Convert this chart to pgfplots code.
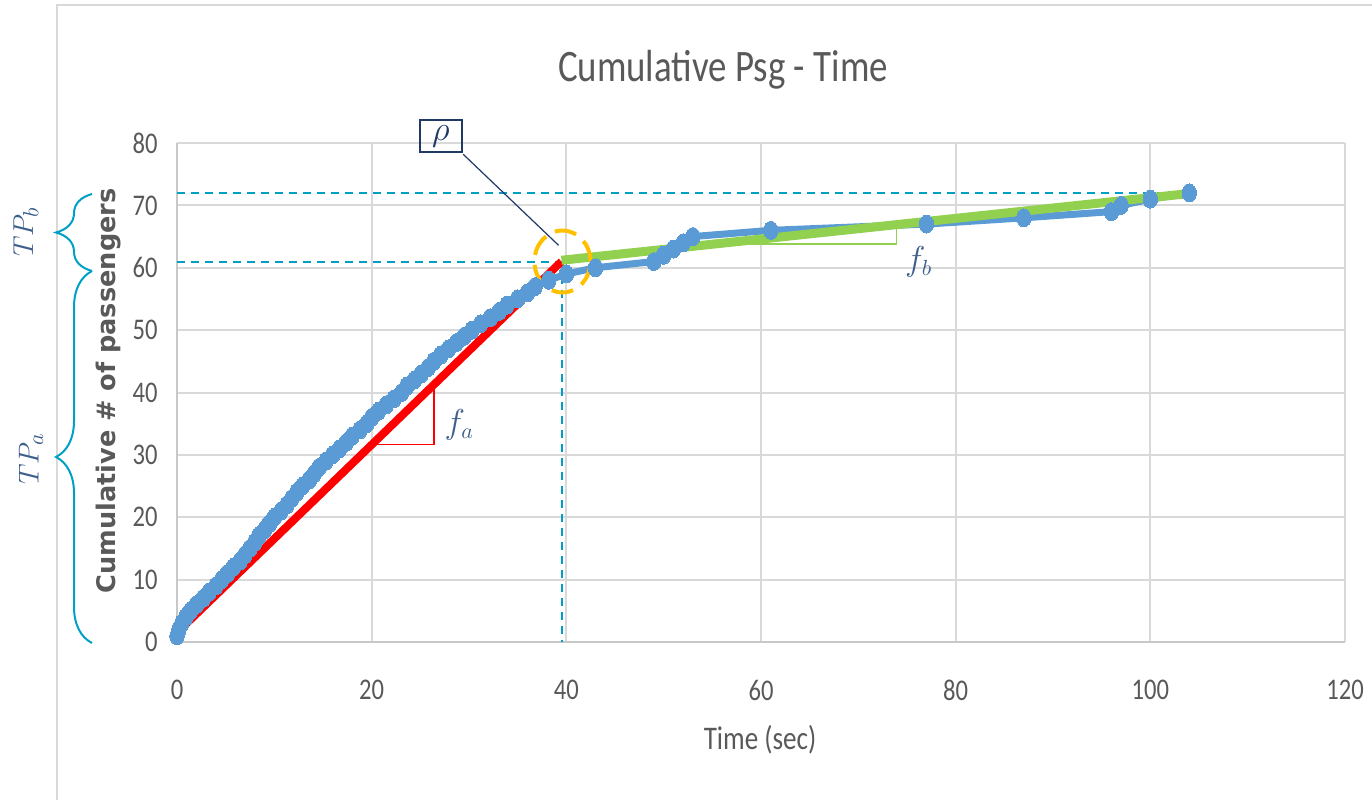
\documentclass[border=0pt]{standalone}
\usepackage{pgfplots}
\pgfplotsset{compat=1.18}
\usepackage{fontspec}
\setmainfont{Carlito}[FakeStretch=0.82]
\newfontfamily\ylabfont{DejaVu Sans}
\usetikzlibrary{decorations.pathreplacing}
\definecolor{ptblue}{RGB}{91,155,213}
\definecolor{gridgray}{RGB}{217,217,217}
\definecolor{axgray}{RGB}{200,200,200}
\definecolor{txtgray}{RGB}{89,89,89}
\definecolor{dashcyan}{RGB}{0,160,198}
\definecolor{orangec}{RGB}{255,192,0}
\definecolor{greenc}{RGB}{146,208,80}
\definecolor{navyc}{RGB}{31,56,100}
\definecolor{slatec}{RGB}{62,95,140}
\begin{document}
\begin{tikzpicture}
\path[use as bounding box] (0,0) rectangle (686pt,400pt);
\begin{axis}[
  at={(88.5pt,79pt)}, anchor=south west, scale only axis,
  width=584pt, height=249.5pt,
  xmin=0, xmax=120, ymin=0, ymax=80,
  xtick={0,20,...,120}, ytick={0,10,...,80},
  axis lines*=left,
  axis line style={draw=axgray, line width=1pt},
  grid=major, major grid style={draw=gridgray, line width=1pt},
  major tick length=0pt,
  tick label style={font=\fontsize{15}{18}\selectfont, text=txtgray},
  /pgf/number format/assume math mode=true,
  xticklabel style={anchor=center, yshift=-24pt},
  yticklabel style={anchor=east, inner sep=0pt, xshift=-9.5pt},
  clip=false,
]
% observed cumulative passengers
\addplot[ptblue, line width=3.5pt, mark=*, mark size=4.5pt,
  mark options={xscale=0.8, fill=ptblue, draw=ptblue, line width=0pt}] coordinates {
(0,1) (0.2,2) (0.5,3) (0.9,4) (1.4,5) (2,6) (2.7,7) (3.3,8) (4,9) (4.6,10)
(5.2,11) (5.8,12) (6.5,13) (7,14) (7.5,15) (8,16) (8.4,17) (9,18) (9.5,19) (10,20)
(10.7,21) (11.3,22) (11.8,23) (12.3,24) (12.9,25) (13.6,26) (14.1,27) (14.6,28) (15.3,29) (16,30)
(16.7,31) (17.4,32) (18,33) (18.8,34) (19.5,35) (20,36) (20.7,37) (21.5,38) (22.3,39) (23.1,40)
(23.6,41) (24.4,42) (25.1,43) (25.8,44) (26.4,45) (27.1,46) (27.9,47) (28.7,48) (29.5,49) (30.3,50)
(31.2,51) (32.2,52) (33.1,53) (33.9,54) (35,55) (36,56) (36.8,57) (38.2,58) (40,59)
(43,60) (49,61) (50,62) (51,63) (52,64) (53,65) (61,66) (77,67) (87,68) (96,69) (97,70) (100,71) (104,72)
};
% dashed reference lines
\addplot[dashcyan, line width=1pt, dash pattern=on 4pt off 3pt] coordinates {(0,72) (104,72)};
\addplot[dashcyan, line width=1pt, dash pattern=on 4pt off 3pt] coordinates {(0,61) (39.6,61)};
\addplot[dashcyan, line width=1pt, dash pattern=on 4pt off 3pt] coordinates {(39.6,61) (39.6,0)};
% slope triangles
\addplot[red, line width=0.6pt] coordinates {(20,31.7) (26.4,31.7) (26.4,41.3)};
\addplot[greenc, line width=0.6pt] coordinates {(56,63.8) (73.9,63.8) (73.9,66.6)};
% fitted segments
\addplot[red, line width=4pt] coordinates {(0,1.5) (39.5,61)};
\addplot[greenc, line width=4.5pt] coordinates {(39.5,61.2) (104,71.9)};
% break point circle
\draw[orangec, line width=2pt, dash pattern=on 11pt off 5pt] (axis cs:39.6,61) ellipse[x radius=14pt, y radius=15.5pt];
% labels
\node[text=slatec, font=\fontsize{16}{18}\selectfont] at (axis cs:29.0,34.8) {$f_a$};
\node[text=slatec, font=\fontsize{16}{18}\selectfont] at (axis cs:76.2,61.0) {$f_b$};
\node[draw=navyc, line width=0.8pt, text=navyc, minimum width=21pt, minimum height=16pt, inner sep=0pt,
  font=\fontsize{17}{19}\selectfont] at (axis cs:27.1,81.1) {$\rho$};
\draw[navyc, line width=0.6pt] (axis cs:29.4,78.2) -- (axis cs:39.2,63.6);
\end{axis}
\begin{scope}[x=0.5pt, y=-0.5pt, yshift=400pt]
\draw[gridgray, line width=1pt] (57,800) -- (57,5) -- (1372,5);
\node[text=txtgray, font=\fontsize{22.5}{26}\selectfont] at (723,70) {Cumulative Psg - Time};
\node[text=txtgray, font=\fontsize{16.5}{20}\selectfont] at (760,740) {Time (sec)};
\node[text=txtgray, rotate=90, font=\ylabfont\bfseries\fontsize{12.8}{15}\selectfont] at (109,391) {Cumulative \# of passengers};
\draw[dashcyan, line width=1pt, decorate, decoration={brace, amplitude=18pt}] (92,643) -- (92,271);
\draw[dashcyan, line width=1pt, decorate, decoration={brace, amplitude=18pt}] (92,271) -- (92,194);
\node[rotate=90, text=slatec, font=\fontsize{15}{17}\selectfont] at (26,232) {$TP_b$};
\node[rotate=90, text=slatec, font=\fontsize{15}{17}\selectfont] at (31,459) {$TP_a$};
\end{scope}
\end{tikzpicture}
\end{document}
